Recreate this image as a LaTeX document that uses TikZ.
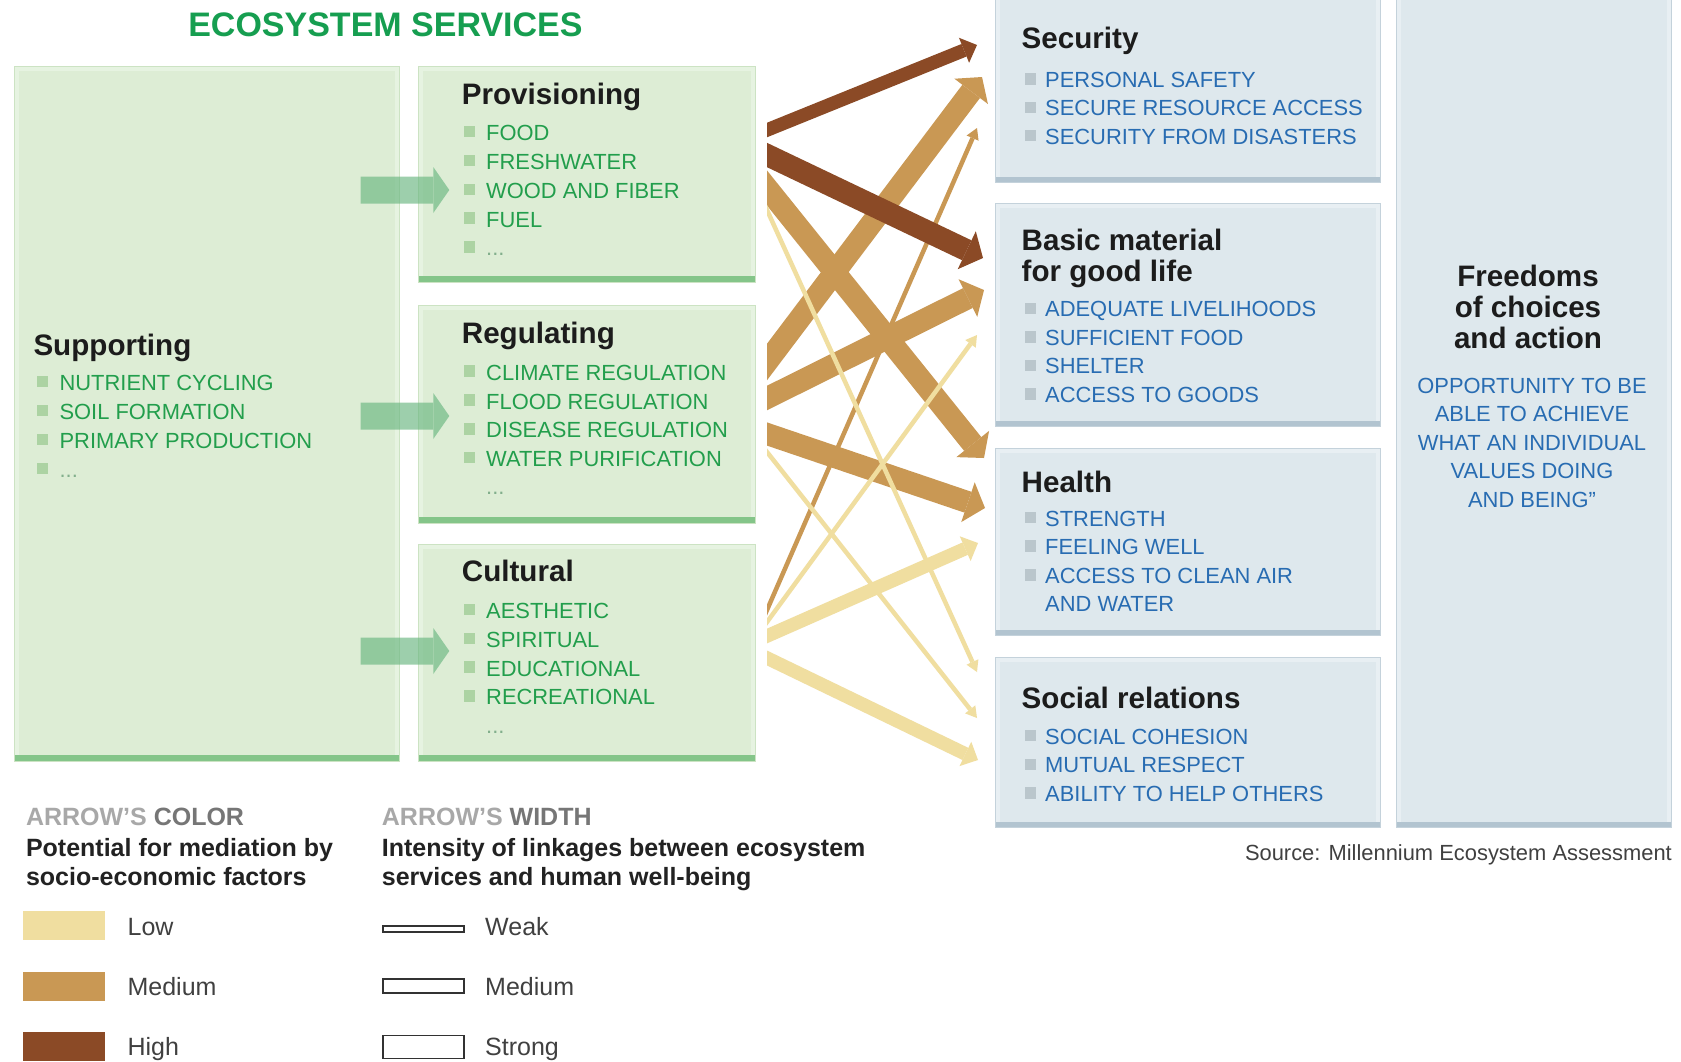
\documentclass[tikz,border=0pt]{standalone}
\usepackage{fontspec}
\setmainfont{Liberation Sans}
\usetikzlibrary{arrows.meta,calc}

% palette
\definecolor{gfill}{RGB}{221,237,213}
\definecolor{grim}{RGB}{230,243,225}
\definecolor{gline}{RGB}{204,227,195}
\definecolor{gstripe}{RGB}{132,197,137}
\definecolor{gbul}{RGB}{172,211,163}
\definecolor{gtext}{RGB}{34,158,76}
\definecolor{gdots}{RGB}{130,175,140}
\definecolor{titlegreen}{RGB}{22,158,80}
\definecolor{garrowc}{RGB}{105,182,128}
\definecolor{bfill}{RGB}{222,232,237}
\definecolor{brim}{RGB}{232,239,243}
\definecolor{bline}{RGB}{196,210,219}
\definecolor{bstripe}{RGB}{178,196,208}
\definecolor{bbul}{RGB}{186,198,204}
\definecolor{btext}{RGB}{40,108,178}
\definecolor{headtext}{RGB}{28,28,28}
\definecolor{lowc}{RGB}{240,222,160}
\definecolor{medc}{RGB}{201,152,84}
\definecolor{highc}{RGB}{139,74,38}
\definecolor{lgray}{RGB}{168,168,168}
\definecolor{mgray}{RGB}{118,118,118}
\definecolor{lgtext}{RGB}{34,34,34}
\definecolor{lbtext}{RGB}{64,64,64}
\definecolor{wline}{RGB}{50,50,50}

% type sizes
\newcommand\hdfont{\fontsize{29.6}{31.7}\selectfont\bfseries}
\newcommand\itfont{\fontsize{21.9}{28.7}\selectfont}
\newcommand\lgfont{\fontsize{25}{29}\selectfont}
\newcommand\ttlfont{\fontsize{34}{40}\selectfont\bfseries}
% list bullets
\newcommand\gsq{{\color{gbul}\rule[3.3pt]{11pt}{11.5pt}}\hspace{11.7pt}}
\newcommand\bsq{{\color{bbul}\rule[2.7pt]{11pt}{11.5pt}}\hspace{9.7pt}}

\tikzset{
  panel/.style={anchor=north west, inner sep=0pt, outer sep=0pt, line width=1pt},
  greenbox/.style={panel, fill=gfill, draw=gline,
    path picture={
      \draw[grim, line width=9pt] (path picture bounding box.south west) rectangle (path picture bounding box.north east);
      \fill[gstripe] (path picture bounding box.south west) rectangle ([yshift=6pt]path picture bounding box.south east);}},
  bluebox/.style={panel, fill=bfill, draw=bline,
    path picture={
      \draw[brim, line width=9pt] (path picture bounding box.south west) rectangle (path picture bounding box.north east);
      \fill[bstripe] (path picture bounding box.south west) rectangle ([yshift=5pt]path picture bounding box.south east);}},
  hd/.style={anchor=base west, inner sep=0pt, font=\hdfont, text=headtext},
  gitem/.style={anchor=base west, inner sep=0pt, font=\itfont, text=gtext},
  bitem/.style={anchor=base west, inner sep=0pt, font=\itfont, text=btext},
  lgtitle/.style={anchor=base west, inner sep=0pt, font=\lgfont\bfseries},
  lgline/.style={anchor=base west, inner sep=0pt, font=\lgfont\bfseries, text=lgtext},
  lglabel/.style={anchor=base west, inner sep=0pt, font=\lgfont, text=lbtext},
  swatch/.style={anchor=north west, inner sep=0pt, outer sep=0pt, minimum width=81.5pt, minimum height=29pt},
  wsample/.style={anchor=north west, inner sep=0pt, outer sep=0pt, minimum width=81pt, draw=wline, line width=1.8pt, fill=white},
  flow/.style={line cap=butt, shorten <=-24pt},
  wkflow/.style={flow, line width=4.5pt, -{Triangle[length=11pt,width=13pt,line width=0pt]}},
  mdflow/.style={flow, line width=13.5pt, -{Triangle[length=14pt,width=27pt,line width=0pt]}},
  stflow/.style={flow, line width=22pt, -{Triangle[length=18pt,width=42pt,line width=0pt]}},
  blockarrow/.style={line cap=butt, line width=27pt, draw=garrowc, -{Triangle[length=16pt,width=46pt,line width=0pt]}},
}

\begin{document}
\begin{tikzpicture}[x=1pt,y=-1pt]
\useasboundingbox (0,0) rectangle (1681,1061);
\fill[white] (0,0) rectangle (1681,1061);

% title
\node[anchor=base, inner sep=0pt, font=\ttlfont, text=titlegreen] (title) at (385.4,36.7) {ECOSYSTEM SERVICES};

% ecosystem service panels
\node[greenbox, minimum width=385pt, minimum height=695pt] (sup) at (14,66) {};
\node[greenbox, minimum width=337pt, minimum height=216pt] (prov) at (418,66) {};
\node[greenbox, minimum width=337pt, minimum height=217.5pt] (reg) at (418,305.5) {};
\node[greenbox, minimum width=337pt, minimum height=216.4pt] (cult) at (418,544.6) {};

% well-being panels
\node[bluebox, minimum width=385pt, minimum height=190pt] (sec) at (995,-8) {};
\node[bluebox, minimum width=385pt, minimum height=222.5pt] (basic) at (995,203.5) {};
\node[bluebox, minimum width=385pt, minimum height=187pt] (health) at (995,448) {};
\node[bluebox, minimum width=385pt, minimum height=170pt] (social) at (995,657) {};
\node[bluebox, minimum width=275pt, minimum height=835pt] (free) at (1396,-8) {};

% supporting services feed the other three
\begin{scope}[transparency group, opacity=0.65]
\draw[blockarrow] ($(sup.east)+(-38.3,-223.5)$) -- ($(prov.west)+(31.3,16)$);
\draw[blockarrow] ($(sup.east)+(-38.3,2.5)$) -- ($(reg.west)+(31.3,1.75)$);
\draw[blockarrow] ($(sup.east)+(-38.3,237.5)$) -- ($(cult.west)+(31.3,-1.8)$);
\end{scope}

% Supporting
\node[hd] (sup-h) at (33.3,355) {Supporting};
\foreach \t [count=\i from 0] in {NUTRIENT CYCLING,SOIL FORMATION,PRIMARY PRODUCTION}
  \node[gitem] (sup-\i) at (36.7,{390.7+29*\i}) {\gsq\t};
\node[gitem, text=gdots] (sup-3) at (36.7,477.7) {\gsq...};

% Provisioning
\node[hd] (prov-h) at (461.7,104.3) {Provisioning};
\foreach \t [count=\i from 0] in {FOOD,FRESHWATER,WOOD AND FIBER,FUEL}
  \node[gitem] (prov-\i) at (463.3,{140.7+28.8*\i}) {\gsq\t};
\node[gitem, text=gdots] (prov-4) at (463.3,255.9) {\gsq...};

% Regulating
\node[hd] (reg-h) at (461.7,343.5) {Regulating};
\foreach \t [count=\i from 0] in {CLIMATE REGULATION,FLOOD REGULATION,DISEASE REGULATION,WATER PURIFICATION}
  \node[gitem] (reg-\i) at (463.3,{380.2+28.8*\i}) {\gsq\t};
\node[gitem, text=gdots] (reg-4) at (486,494.5) {...};

% Cultural
\node[hd] (cult-h) at (461.7,581) {Cultural};
\foreach \t [count=\i from 0] in {AESTHETIC,SPIRITUAL,EDUCATIONAL,RECREATIONAL}
  \node[gitem] (cult-\i) at (463.3,{618.5+28.8*\i}) {\gsq\t};
\node[gitem, text=gdots] (cult-4) at (486,733) {...};

% Security
\node[hd] (sec-h) at (1021.5,48.3) {Security};
\foreach \t [count=\i from 0] in {PERSONAL SAFETY,SECURE RESOURCE ACCESS,SECURITY FROM DISASTERS}
  \node[bitem] (sec-\i) at (1024.3,{87.3+28.4*\i}) {\bsq\t};

% Basic material for good life
\node[hd] (basic-h1) at (1021.5,250) {Basic material};
\node[hd] (basic-h2) at (1021.5,281.7) {for good life};
\foreach \t [count=\i from 0] in {ADEQUATE LIVELIHOODS,SUFFICIENT FOOD,SHELTER,ACCESS TO GOODS}
  \node[bitem] (basic-\i) at (1024.3,{316.7+28.5*\i}) {\bsq\t};

% Health
\node[hd] (health-h) at (1021.5,492.3) {Health};
\foreach \t [count=\i from 0] in {STRENGTH,FEELING WELL,ACCESS TO CLEAN AIR}
  \node[bitem] (health-\i) at (1024.3,{526+28.6*\i}) {\bsq\t};
\node[bitem] (health-3) at (1045,611.8) {AND WATER};

% Social relations
\node[hd] (social-h) at (1021.5,708.3) {Social relations};
\foreach \t [count=\i from 0] in {SOCIAL COHESION,MUTUAL RESPECT,ABILITY TO HELP OTHERS}
  \node[bitem] (social-\i) at (1024.3,{744+28.7*\i}) {\bsq\t};

% Freedoms of choices and action
\foreach \t [count=\i from 0] in {Freedoms,of choices,and action}
  \node[hd, anchor=base] (free-h\i) at (1528,{286+31.4*\i}) {\t};
\foreach \t [count=\i from 0] in {OPPORTUNITY TO BE,ABLE TO ACHIEVE,WHAT AN INDIVIDUAL,VALUES DOING}
  \node[bitem, anchor=base] (free-\i) at (1532,{393.3+28.45*\i}) {\t};
\node[bitem, anchor=base] (free-4) at (1532,507.1) {AND BEING\char34};

% linkages between services and well-being
\begin{scope}
\clip (767,-10) rectangle (1000,800);
% medium mediation potential
\draw[stflow, medc] ($(prov.east)+(12,14)$) -- ($(health.west)+(-11,-83.5)$);
\draw[stflow, medc] ($(reg.east)+(12,-52.25)$) -- ($(sec.west)+(-13,-10)$);
\draw[stflow, medc] ($(reg.east)+(12,-16.25)$) -- ($(basic.west)+(-11,-24.75)$);
\draw[stflow, medc] ($(reg.east)+(12,19.75)$) -- ($(health.west)+(-10,-33.5)$);
\draw[wkflow, medc] ($(cult.east)+(12,-42.8)$) -- ($(sec.west)+(-18,41)$);
% high mediation potential
\draw[mdflow, highc] ($(prov.east)+(12,-44)$) -- ($(sec.west)+(-18,-42)$);
\draw[stflow, highc] ($(prov.east)+(12,-19)$) -- ($(basic.west)+(-12,-56.75)$);
% low mediation potential
\draw[wkflow, lowc] ($(prov.east)+(12,36)$) -- ($(social.west)+(-18,-70)$);
\draw[wkflow, lowc] ($(reg.east)+(12,37.75)$) -- ($(social.west)+(-18,-24)$);
\draw[wkflow, lowc] ($(cult.east)+(12,-30.8)$) -- ($(basic.west)+(-18,20.25)$);
\draw[mdflow, lowc] ($(cult.east)+(12,-16.8)$) -- ($(health.west)+(-17,1.5)$);
\draw[mdflow, lowc] ($(cult.east)+(12,5.2)$) -- ($(social.west)+(-17,18)$);
\end{scope}

% source
\node[anchor=base east, inner sep=0pt, font=\itfont, text=lbtext] (src) at (1672,860) {Source: Millennium Ecosystem Assessment};

% legend: colour
\node[lgtitle] (lgc-t) at (25.8,825) {\textcolor{lgray}{ARROW’S} \textcolor{mgray}{COLOR}};
\node[lgline] (lgc-1) at (25.8,856) {Potential for mediation by};
\node[lgline] (lgc-2) at (25.8,885) {socio-economic factors};
\node[swatch, fill=lowc] (sw-low) at (23,911) {};
\node[swatch, fill=medc] (sw-med) at (23,972) {};
\node[swatch, fill=highc] (sw-high) at (23,1032) {};
\node[lglabel] (sw-low-l) at (127.4,935) {Low};
\node[lglabel] (sw-med-l) at (127.4,995) {Medium};
\node[lglabel] (sw-high-l) at (127.4,1055) {High};

% legend: width
\node[lgtitle] (lgw-t) at (381.7,825) {\textcolor{lgray}{ARROW’S} \textcolor{mgray}{WIDTH}};
\node[lgline] (lgw-1) at (381.7,856) {Intensity of linkages between ecosystem};
\node[lgline] (lgw-2) at (381.7,885) {services and human well-being};
\node[wsample, minimum height=6pt] (ws-weak) at (382.6,925.7) {};
\node[wsample, minimum height=14pt] (ws-med) at (382.6,979) {};
\node[wsample, minimum height=23pt] (ws-strong) at (382.6,1035.5) {};
\node[lglabel] (ws-weak-l) at (485,935) {Weak};
\node[lglabel] (ws-med-l) at (485,995) {Medium};
\node[lglabel] (ws-strong-l) at (485,1055) {Strong};
\end{tikzpicture}
\end{document}
